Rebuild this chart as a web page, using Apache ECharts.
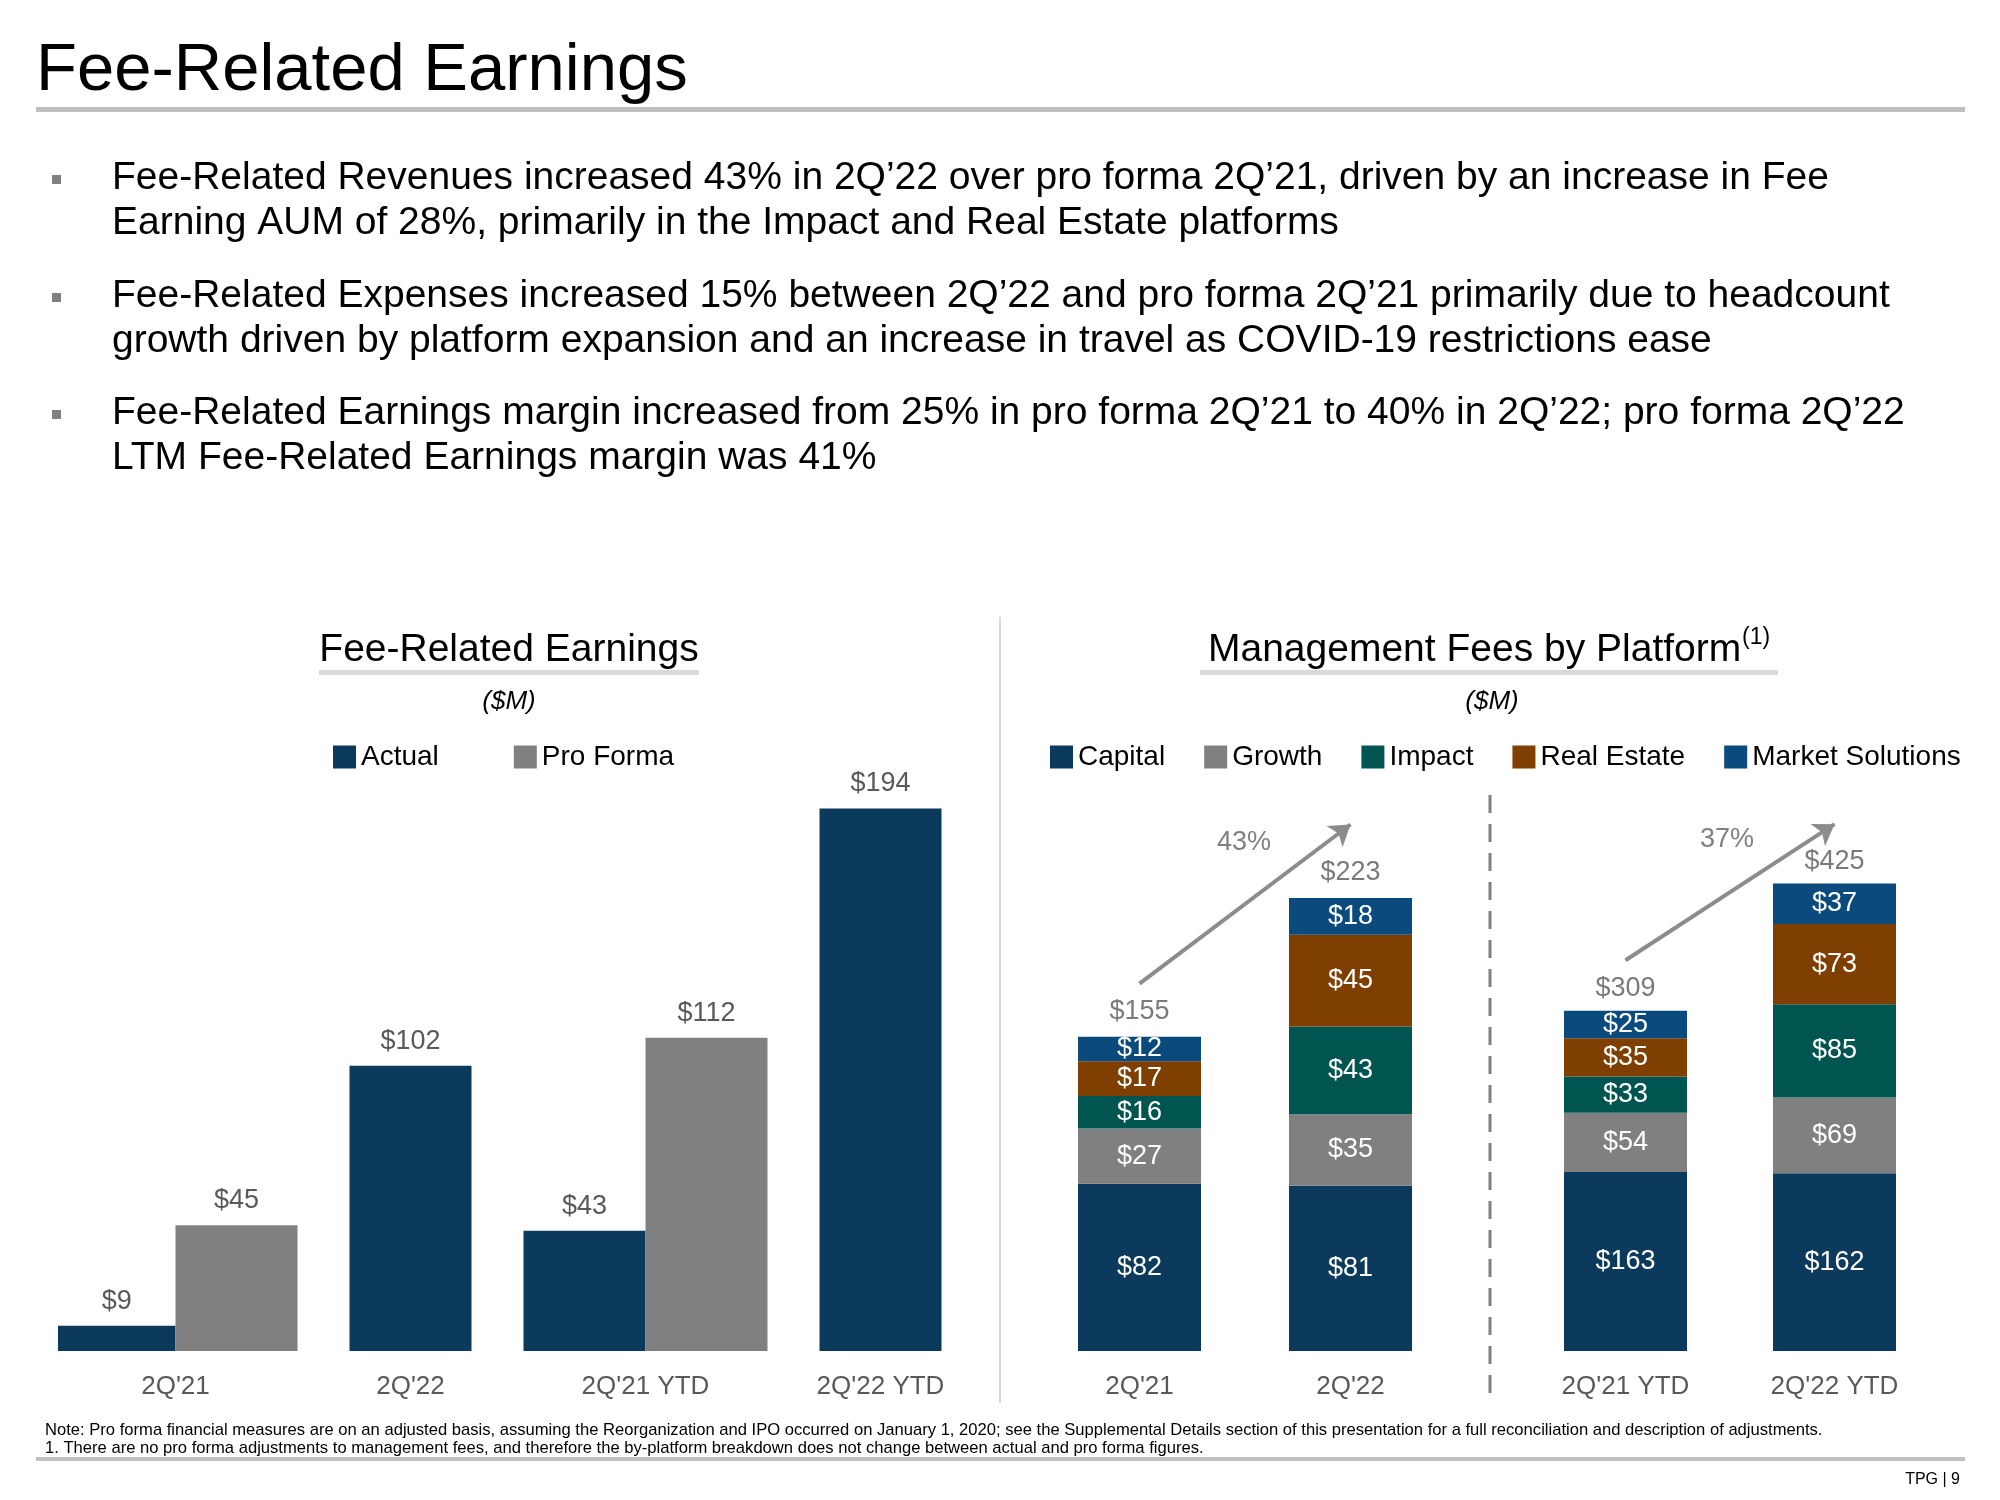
<!DOCTYPE html>
<html>
<head>
<meta charset="utf-8">
<script src="https://cdn.jsdelivr.net/npm/echarts@6.0.0/dist/echarts.min.js"></script>
<style>
  html, body { margin: 0; padding: 0; background: #ffffff; }
  #chart { width: 2000px; height: 1500px; }
</style>
</head>
<body>
<div id="chart"></div>
<script>
// ---------------- DATA ----------------
const leftCategories = ["2Q'21", "2Q'22", "2Q'21 YTD", "2Q'22 YTD"];
const actualValues = [9, 102, 43, 194];
const proFormaValues = [45, null, 112, null];

const quarterCategories = ["2Q'21", "2Q'22"];
const ytdCategories = ["2Q'21 YTD", "2Q'22 YTD"];
const platformNames = ['Capital', 'Growth', 'Impact', 'Real Estate', 'Market Solutions'];
// order: 2Q'21, 2Q'22, 2Q'21 YTD, 2Q'22 YTD
const capitalValues = [82, 81, 163, 162];
const growthValues = [27, 35, 54, 69];
const impactValues = [16, 43, 33, 85];
const realEstateValues = [17, 45, 35, 73];
const marketSolutionsValues = [12, 18, 25, 37];
const totalValues = [155, 223, 309, 425];
const growthRates = ['43%', '37%'];

const titleText = 'Fee-Related Earnings';
const bullets = [
  ['Fee-Related Revenues increased 43% in 2Q\u201922 over pro forma 2Q\u201921, driven by an increase in Fee',
   'Earning AUM of 28%, primarily in the Impact and Real Estate platforms'],
  ['Fee-Related Expenses increased 15% between 2Q\u201922 and pro forma 2Q\u201921 primarily due to headcount',
   'growth driven by platform expansion and an increase in travel as COVID-19 restrictions ease'],
  ['Fee-Related Earnings margin increased from 25% in pro forma 2Q\u201921 to 40% in 2Q\u201922; pro forma 2Q\u201922',
   'LTM Fee-Related Earnings margin was 41%']
];
const footnotes = [
  'Note: Pro forma financial measures are on an adjusted basis, assuming the Reorganization and IPO occurred on January 1, 2020; see the Supplemental Details section of this presentation for a full reconciliation and description of adjustments.',
  '1. There are no pro forma adjustments to management fees, and therefore the by-platform breakdown does not change between actual and pro forma figures.'
];

// ---------------- STYLE ----------------
const FONT = "'Liberation Sans', Arial, Helvetica, sans-serif";
const NAVY = '#0c3a5c', GRAY = '#808080', TEAL = '#005550', BROWN = '#7f3f00', BLUE = '#0b4a7c';
const platformColors = [NAVY, GRAY, TEAL, BROWN, BLUE];
const platformValues = [capitalValues, growthValues, impactValues, realEstateValues, marketSolutionsValues];

const topLabel = {
  show: true, position: 'top', distance: 11, color: '#595959', fontSize: 27, fontFamily: FONT,
  formatter: p => '$' + p.value
};
const axisLabelStyle = { color: '#595959', fontSize: 26, fontFamily: FONT, margin: 23 };

const series = [];
// Left chart
series.push({
  name: 'Actual', type: 'bar', xAxisIndex: 0, yAxisIndex: 0, barWidth: 122, barGap: '0%',
  data: actualValues.map((v, i) => proFormaValues[i] != null ? v : '-'),
  itemStyle: { color: NAVY }, label: topLabel
});
series.push({
  name: 'Pro Forma', type: 'bar', xAxisIndex: 0, yAxisIndex: 0, barWidth: 122, barGap: '0%',
  data: proFormaValues.map(v => v == null ? '-' : v),
  itemStyle: { color: GRAY }, label: topLabel
});
series.push({
  name: 'Actual', type: 'bar', xAxisIndex: 1, yAxisIndex: 0, barWidth: 122,
  data: actualValues.map((v, i) => proFormaValues[i] == null ? v : '-'),
  itemStyle: { color: NAVY }, label: topLabel
});

// Right chart (two panels with separate scales)
const arrowStart = [180, 356];
const arrowEnd = [258, 480];
[0, 1].forEach(g => {
  platformNames.forEach((name, k) => {
    series.push({
      name, type: 'bar', stack: 's' + g, xAxisIndex: 2 + g, yAxisIndex: 1 + g, barWidth: 123,
      data: platformValues[k].slice(2 * g, 2 * g + 2),
      itemStyle: { color: platformColors[k] },
      label: { show: true, position: 'inside', color: '#ffffff', fontSize: 27, fontFamily: FONT,
               formatter: p => '$' + p.value }
    });
  });
  series.push({
    name: 'Total', type: 'scatter', xAxisIndex: 2 + g, yAxisIndex: 1 + g,
    symbolSize: 1, itemStyle: { color: 'rgba(0,0,0,0)' }, silent: true,
    data: totalValues.slice(2 * g, 2 * g + 2),
    label: { show: true, position: 'top', distance: 9, color: '#595959', fontSize: 27, fontFamily: FONT,
             formatter: p => '$' + p.value },
    markLine: {
      silent: true, symbol: ['none', 'arrow'], symbolSize: 20,
      lineStyle: { color: '#8c8c8c', width: 4, type: 'solid' },
      label: { show: false },
      data: [[{ coord: [0, arrowStart[g]] }, { coord: [1, arrowEnd[g]] }]]
    }
  });
});

const graphics = [];
// Title
graphics.push({ type: 'text', left: 36, top: 38, style: { text: titleText, font: '67px ' + FONT, fill: '#000' } });
graphics.push({ type: 'rect', shape: { x: 36, y: 107, width: 1929, height: 5 }, style: { fill: '#bfbfbf' } });
// Bullets
const bulletTops = [156, 274, 391];
bullets.forEach((b, i) => {
  graphics.push({ type: 'rect', shape: { x: 52, y: bulletTops[i] + 19, width: 9, height: 9 }, style: { fill: '#808080' } });
  graphics.push({ type: 'text', x: 112, y: bulletTops[i], style: {
    text: b.join('\n'), font: '39px ' + FONT, fill: '#000', lineHeight: 45, verticalAlign: 'top' } });
});
// Left subtitle
graphics.push({ type: 'text', x: 509, y: 650, style: { text: 'Fee-Related Earnings', font: '39px ' + FONT, fill: '#000', align: 'center', verticalAlign: 'middle' } });
graphics.push({ type: 'rect', shape: { x: 319, y: 670, width: 380, height: 5 }, style: { fill: '#d9d9d9' } });
graphics.push({ type: 'text', x: 509, y: 702, style: { text: '($M)', font: 'italic 26px ' + FONT, fill: '#000', align: 'center', verticalAlign: 'middle' } });
// Right subtitle
graphics.push({ type: 'text', x: 1208, y: 650, style: { text: 'Management Fees by Platform', font: '39px ' + FONT, fill: '#000', align: 'left', verticalAlign: 'middle' } });
graphics.push({ type: 'text', x: 1742, y: 638, style: { text: '(1)', font: '23px ' + FONT, fill: '#000', align: 'left', verticalAlign: 'middle' } });
graphics.push({ type: 'rect', shape: { x: 1200, y: 670, width: 578, height: 5 }, style: { fill: '#d9d9d9' } });
graphics.push({ type: 'text', x: 1492, y: 702, style: { text: '($M)', font: 'italic 26px ' + FONT, fill: '#000', align: 'center', verticalAlign: 'middle' } });
// Divider between charts
graphics.push({ type: 'line', shape: { x1: 1000, y1: 617, x2: 1000, y2: 1403 }, style: { stroke: '#d9d9d9', lineWidth: 2 } });
// Dashed separator in right chart
graphics.push({ type: 'line', shape: { x1: 1490, y1: 795, x2: 1490, y2: 1397 }, style: { stroke: '#808080', lineWidth: 3, lineDash: [18, 11] } });
// Growth rates
graphics.push({ type: 'text', x: 1244, y: 843, style: { text: growthRates[0], font: '27px ' + FONT, fill: '#808080', align: 'center', verticalAlign: 'middle' } });
graphics.push({ type: 'text', x: 1727, y: 840, style: { text: growthRates[1], font: '27px ' + FONT, fill: '#808080', align: 'center', verticalAlign: 'middle' } });
// Footnotes
graphics.push({ type: 'text', x: 45, y: 1430, style: { text: footnotes[0], font: '16.6px ' + FONT, fill: '#000', verticalAlign: 'middle' } });
graphics.push({ type: 'text', x: 45, y: 1448, style: { text: footnotes[1], font: '16.6px ' + FONT, fill: '#000', verticalAlign: 'middle' } });
graphics.push({ type: 'rect', shape: { x: 36, y: 1457, width: 1929, height: 4 }, style: { fill: '#bfbfbf' } });
graphics.push({ type: 'text', x: 1960, y: 1480, style: { text: 'TPG | 9', font: '16px ' + FONT, fill: '#000', align: 'right', verticalAlign: 'middle' } });

const chart = echarts.init(document.getElementById('chart'), null, { renderer: 'canvas', width: 2000, height: 1500 });
chart.setOption({
  backgroundColor: '#ffffff',
  animation: false,
  textStyle: { fontFamily: FONT },
  legend: [
    { data: ['Actual', 'Pro Forma'], left: 333, top: 743, padding: 0, icon: 'rect', itemWidth: 23, itemHeight: 23, itemGap: 75,
      textStyle: { fontSize: 28, color: '#000', fontFamily: FONT }, selectedMode: false },
    { data: platformNames, left: 1050, top: 743, padding: 0, icon: 'rect', itemWidth: 23, itemHeight: 23, itemGap: 39,
      textStyle: { fontSize: 28, color: '#000', fontFamily: FONT }, selectedMode: false }
  ],
  grid: [
    { left: 58, width: 940, top: 800, height: 551 },
    { left: 1034, width: 422, top: 800, height: 551 },
    { left: 1521, width: 418, top: 800, height: 551 }
  ],
  xAxis: [
    { type: 'category', gridIndex: 0, data: leftCategories, axisLine: { show: false }, axisTick: { show: false }, axisLabel: axisLabelStyle },
    { type: 'category', gridIndex: 0, data: leftCategories, show: false },
    { type: 'category', gridIndex: 1, data: quarterCategories, axisLine: { show: false }, axisTick: { show: false }, axisLabel: axisLabelStyle },
    { type: 'category', gridIndex: 2, data: ytdCategories, axisLine: { show: false }, axisTick: { show: false }, axisLabel: axisLabelStyle }
  ],
  yAxis: [
    { type: 'value', gridIndex: 0, min: 0, max: 197, show: false, splitLine: { show: false } },
    { type: 'value', gridIndex: 1, min: 0, max: 270, show: false, splitLine: { show: false } },
    { type: 'value', gridIndex: 2, min: 0, max: 502, show: false, splitLine: { show: false } }
  ],
  series,
  graphic: graphics
});
</script>
</body>
</html>
